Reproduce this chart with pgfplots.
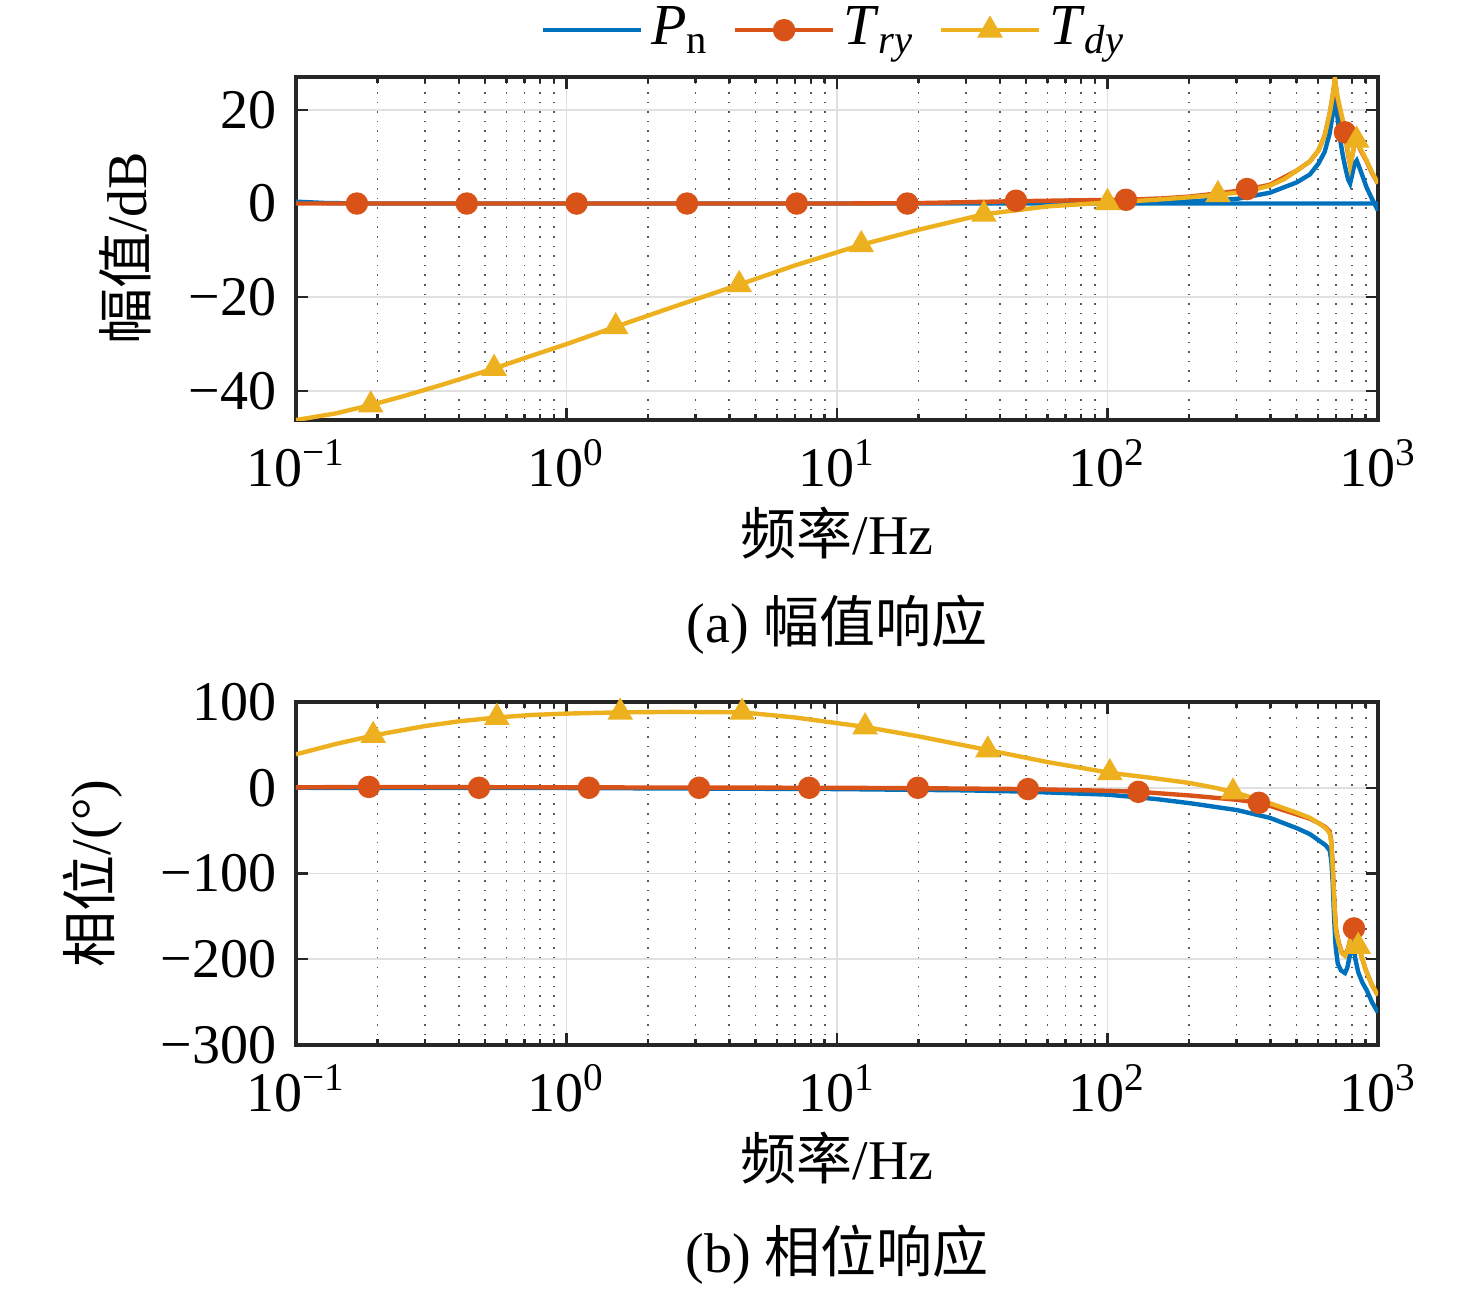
\documentclass[border=0pt]{standalone}
\usepackage{fontspec}
\setmainfont{Liberation Serif}
\newfontfamily\cjk{Noto Sans CJK SC}
\usepackage{pgfplots}
\pgfplotsset{compat=1.18}
\definecolor{mb}{rgb}{0,0.447,0.741}
\definecolor{mo}{rgb}{0.85,0.325,0.098}
\definecolor{my}{rgb}{0.929,0.694,0.125}
\pgfplotsset{
  myaxis/.style={
    scale only axis, width=270.5pt, height=85.75pt,
    xtick={0.1,1,10,100,1000},
    xticklabels={10\textsuperscript{−1},10\textsuperscript{0},10\textsuperscript{1},10\textsuperscript{2},10\textsuperscript{3}},
    xmajorgrids=true, ymajorgrids=true, xminorgrids=true,
    major grid style={black!12, line width=0.45pt},
    minor grid style={black!65, dotted, line width=0.45pt},
    tick align=inside, major tick length=3pt, minor tick length=1.6pt,
    axis line style={line width=0.8pt, black!85},
    every tick/.style={black!85, line width=0.6pt},
    tick label style={font=\fontsize{14}{16}\selectfont},
    label style={font=\fontsize{14}{16}\selectfont},
    xlabel style={yshift=4.5pt},
    every axis plot/.append style={line width=1.1pt},
  },
}
\begin{document}
\fontsize{14}{16}\selectfont
\begin{tikzpicture}
\begin{axis}[xmode=log, xmin=0.1, xmax=1000, myaxis, name=top, at={(0,0)},
  ymin=-46.2, ymax=27,
  ytick={-40,-20,0,20}, yticklabels={−40,−20,0,20},
  xlabel={{\cjk 频率}/Hz}, ylabel={{\cjk 幅值}/dB},
  legend style={at={(0.5,1.02)}, anchor=south, draw=none, fill=none,
    legend columns=3, font=\fontsize{14.5}{17}\selectfont,
    /tikz/every even column/.append style={column sep=4pt},
    /tikz/every odd column/.append style={column sep=0pt}},
  legend image code/.code={\draw[mark repeat=2,mark phase=2] plot coordinates {(0pt,0pt)(12.25pt,0pt)(24.5pt,0pt)};},
]
\addlegendimage{mb, line width=1.1pt}
\addlegendentry{\textit{P}\textsubscript{n}}
\addlegendimage{mo, line width=1.1pt, mark=*, mark size=2.25pt, mark options={solid, fill=mo, draw=mo}}
\addlegendentry{\textit{T}\textsubscript{\textit{ry}}}
\addlegendimage{my, line width=1.1pt, mark=triangle*, mark size=2.6pt, mark options={solid, fill=my, draw=my}}
\addlegendentry{\textit{T}\textsubscript{\textit{dy}}}
% blue
\addplot[mb, forget plot] coordinates {(0.1,0.4)(0.13,0.1)(0.2,0)(1000,0)};
\addplot[mb, forget plot] coordinates {
(100,0)(150,0.2)(202,0.5)(301,1.0)(398,2.3)(500,4.5)(560,6.2)(602,8.5)(635,11)(663,15)(680,19)(693,23.4)
(705,19.5)(723,14)(740,10.5)(755,8)(775,5.2)(789,4.3)(805,6.5)(820,8.6)(834,9.2)(860,7.2)(908,3.4)(950,1)(1000,-1.5)};
% red
\addplot[mo, forget plot] coordinates {
(0.1,0)(1,0)(10,0)(20,0.1)(46,0.5)(80,0.7)(117,0.8)(160,1.1)(202,1.5)(260,2.2)(328,3.0)(398,4.0)(500,7.0)(560,9)(602,11.3)(635,14.5)(663,19.2)(680,23)(693,26.5)
(708,22.5)(723,20)(740,17.5)(755,15.2)(775,10.5)(789,8.3)(805,10.5)(820,12.8)(834,13.8)(860,11.5)(908,9)(950,6.5)(1000,4.3)};
\addplot[mo, only marks, mark=*, mark size=2.25pt, forget plot] coordinates {
(0.168,0)(0.428,0)(1.09,0)(2.79,0)(7.1,0)(18.2,0)(45.9,0.6)(117,0.8)(328,3.1)(755,15.2)};
% yellow
\addplot[my, forget plot] coordinates {
(0.1,-46.2)(0.14,-44.8)(0.189,-43)(0.25,-41.1)(0.35,-38.6)(0.54,-35.2)(0.75,-32.4)(1,-30.0)(1.52,-26.3)(2.5,-22)(4.35,-17.3)(7,-13.2)(12.3,-8.8)(20,-5.6)(34.9,-2.3)(60,-0.6)(100,0.2)(150,0.8)(202,1.35)(256,1.9)(301,2.3)(350,3.0)(398,3.8)(450,5.2)(500,7.0)(560,9)(602,11.3)(635,14.5)(663,19.2)(680,23)(693,26.7)
(708,23)(723,20.5)(740,18)(755,15.6)(775,11)(789,8.1)(805,10.5)(820,12.8)(834,14)(860,11.8)(908,9.2)(950,6.7)(1000,4.3)};
\addplot[my, only marks, mark=triangle*, mark size=2.6pt, forget plot] coordinates {
(0.189,-43)(0.54,-35.2)(1.52,-26.3)(4.35,-17.3)(12.3,-8.8)(34.9,-2.3)(100,0.2)(256,1.9)(834,13.5)};
\end{axis}
\node at ([yshift=-51.25pt]top.south) {(a) {\cjk 幅值响应}};

\begin{axis}[xmode=log, xmin=0.1, xmax=1000, myaxis, name=bot, at={(0,-156.25pt)},
  ymin=-300, ymax=100,
  ytick={-300,-200,-100,0,100}, yticklabels={−300,−200,−100,0,100},
  xlabel={{\cjk 频率}/Hz}, ylabel={{\cjk 相位}/(°)},
]
% blue
\addplot[mb] coordinates {
(0.1,0)(1,-0.3)(10,-1.5)(30,-3)(50,-4.5)(100,-8)(150,-13)(202,-18)(301,-26)(398,-35)(500,-47)(560,-54)(602,-61)(640,-67)(663,-73)
(672,-85)(680,-110)(688,-150)(697,-185)(710,-205)(730,-213)(755,-216)(770,-210)(785,-197)(800,-185)(811,-181)(825,-200)(845,-215)(875,-227)(908,-236)(950,-250)(1000,-262)};
% red
\addplot[mo] coordinates {
(0.1,0.5)(0.186,1)(1,0.5)(10,0)(20,-0.5)(50.8,-1.5)(100,-3.5)(130,-4.7)(202,-9)(301,-14)(363,-17.5)(398,-21)(500,-31)(560,-36)(602,-41)(640,-46)(663,-51)
(672,-62)(680,-90)(690,-135)(700,-165)(715,-180)(735,-192)(755,-195)(775,-188)(795,-172)(811,-166)(830,-178)(860,-192)(900,-212)(950,-230)(1000,-242)};
\addplot[mo, only marks, mark=*, mark size=2.25pt] coordinates {
(0.186,1)(0.475,0)(1.21,0)(3.09,0)(7.89,0)(19.9,0)(50.8,-1.5)(130,-4.7)(363,-17.5)(815,-164)};
% yellow
\addplot[my] coordinates {
(0.1,39)(0.14,51)(0.193,61)(0.3,72)(0.4,77.5)(0.553,82)(0.75,85)(1,86.5)(1.58,88)(2.5,88.5)(4.46,88)(7,82)(12.7,71)(20,60)(36.1,44)(60,30)(102,17.5)(150,11)(202,5.5)(250,0)(301,-6)(398,-18)(500,-29)(560,-35)(602,-41)(640,-47)(663,-53)
(672,-64)(680,-92)(690,-137)(700,-167)(715,-181)(735,-193)(755,-196)(775,-189)(795,-173)(811,-166)(830,-178)(860,-192)(900,-212)(950,-230)(1000,-242)};
\addplot[my, only marks, mark=triangle*, mark size=2.6pt] coordinates {
(0.193,61)(0.553,82)(1.58,88)(4.46,88)(12.7,71)(36.1,44)(102,17.5)(291,-5)(845,-185)};
\end{axis}
\node at ([yshift=-52.5pt]bot.south) {(b) {\cjk 相位响应}};
\pgfresetboundingbox
\path[use as bounding box] (-74pt,-217.5pt) rectangle (295pt,105pt);
\end{tikzpicture}
\end{document}
